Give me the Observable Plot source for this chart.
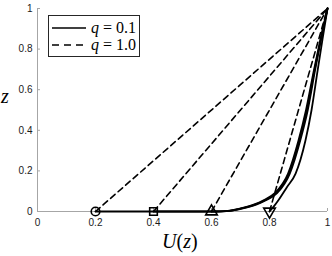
<!DOCTYPE html>
<html>
<head>
<meta charset="utf-8">
<script src="https://cdn.jsdelivr.net/npm/d3@7"></script>
<script src="https://cdn.jsdelivr.net/npm/@observablehq/plot@0.6"></script>
<style>
  body { margin: 0; background: white; }
  #wrap { position: relative; width: 332px; height: 256px; }
  .lab { position: absolute; font-family: "Liberation Serif", serif; color: #000; white-space: nowrap; line-height: 1; }
  #legend { position: absolute; left: 48px; top: 15px; width: 90px; height: 40px; border: 1px solid #262626; background: white; font-family: "Liberation Serif", serif; font-size: 16px; }
  #legend .row { position: absolute; left: 2px; height: 16px; display: flex; align-items: center; }
  #legend svg { display: block; }
  #legend .eq { margin: 0 4px; }
</style>
</head>
<body>
<div id="wrap"></div>
<script>
// Tick values
const xTicks = [0, 0.2, 0.4, 0.6, 0.8, 1];
const yTicks = [0, 0.2, 0.4, 0.6, 0.8, 1];

// Starting points (z = 0) of each profile
const starts = [0.2, 0.4, 0.6, 0.8];
const symbols = ["circle", "square", "triangle", "triangle"];
const rotations = [0, 0, 0, 180];

// q = 1.0 : straight profiles from (start, 0) to (1, 1)
const dashEndU = 1;
const dashEndZ = 1;

// q = 0.1 : curved profiles
const zSolid = [0, 0, 0.003, 0.015, 0.035, 0.054, 0.09, 0.187, 0.35, 0.5, 0.695, 0.85, 1];
const uSolid02 = [0.2, 0.60, 0.655, 0.700, 0.748, 0.778, 0.818, 0.864, 0.900, 0.926, 0.953, 0.976, 1];
const uSolid04 = [0.4, 0.61, 0.659, 0.704, 0.752, 0.782, 0.822, 0.867, 0.903, 0.929, 0.955, 0.977, 1];
const uSolid06 = [0.6, 0.62, 0.663, 0.708, 0.756, 0.786, 0.826, 0.870, 0.906, 0.932, 0.957, 0.978, 1];
const zSolid08 = [0, 0.025, 0.054, 0.12, 0.187, 0.35, 0.5, 0.695, 0.85, 1];
const uSolid08 = [0.8, 0.815, 0.83, 0.86, 0.89, 0.924, 0.945, 0.966, 0.983, 1];

const solidData = [];
[[uSolid02, zSolid, 0.2], [uSolid04, zSolid, 0.4], [uSolid06, zSolid, 0.6], [uSolid08, zSolid08, 0.8]]
  .forEach(([us, zs, s]) => us.forEach((u, i) => solidData.push({u, z: zs[i], s})));

const dashData = [];
starts.forEach(s => { dashData.push({u: s, z: 0, s}); dashData.push({u: dashEndU, z: dashEndZ, s}); });

const markers = starts.map((s, i) => ({u: s, z: 0, sym: symbols[i], rot: rotations[i]}));

const chart = Plot.plot({
  width: 332,
  height: 256,
  marginLeft: 37,
  marginRight: 5,
  marginTop: 8,
  marginBottom: 45,
  x: {domain: [0, 1]},
  y: {domain: [0, 1]},
  style: {fontFamily: "Liberation Sans, sans-serif", fontSize: "10px", color: "#1a1a1a", background: "white"},
  marks: [
    Plot.ruleX([0], {stroke: "#a6a6a6", strokeWidth: 1}),
    Plot.ruleY([0], {stroke: "#a6a6a6", strokeWidth: 1}),
    // inward tick marks (no text)
    Plot.axisX({ticks: xTicks, tickSize: -3, tickFormat: () => "", stroke: "#a6a6a6", label: null}),
    Plot.axisY({ticks: yTicks, tickSize: -3, tickFormat: () => "", stroke: "#a6a6a6", label: null}),
    // tick labels
    Plot.axisX({ticks: xTicks, tickSize: 0, tickPadding: 7, tickFormat: d => String(d), fill: "#1a1a1a", label: null}),
    Plot.axisY({ticks: yTicks, tickSize: 0, tickPadding: 5, tickFormat: d => String(d), fill: "#1a1a1a", label: null}),
    Plot.line(dashData, {x: "u", y: "z", z: "s", stroke: "black", strokeWidth: 1.6, strokeDasharray: "6,4"}),
    Plot.line(solidData, {x: "u", y: "z", z: "s", stroke: "black", strokeWidth: 1.8, curve: "monotone-x"}),
    Plot.dot(markers, {x: "u", y: "z", symbol: "sym", rotate: "rot", r: 4.3, stroke: "black", strokeWidth: 1.6, fill: "none"})
  ]
});

const wrap = document.getElementById("wrap");
wrap.appendChild(chart);

// axis labels
const xl = document.createElement("div");
xl.className = "lab";
xl.style.cssText = "left:162px; top:231px; font-size:20px;";
xl.innerHTML = "<i>U</i>(<i>z</i>)";
wrap.appendChild(xl);

const yl = document.createElement("div");
yl.className = "lab";
yl.style.cssText = "left:1px; top:86px; font-size:20px;";
yl.innerHTML = "<i>z</i>";
wrap.appendChild(yl);

// legend
const legend = document.createElement("div");
legend.id = "legend";
legend.innerHTML = `
  <div class="row" style="top:4px"><svg width="36" height="10"><line x1="1" y1="5" x2="35" y2="5" stroke="black" stroke-width="1.6"/></svg><span>&nbsp;<i>q</i><span class="eq">=</span>0.1</span></div>
  <div class="row" style="top:21px"><svg width="36" height="10"><line x1="1" y1="5" x2="35" y2="5" stroke="black" stroke-width="1.6" stroke-dasharray="7,5"/></svg><span>&nbsp;<i>q</i><span class="eq">=</span>1.0</span></div>`;
wrap.appendChild(legend);
</script>
</body>
</html>
